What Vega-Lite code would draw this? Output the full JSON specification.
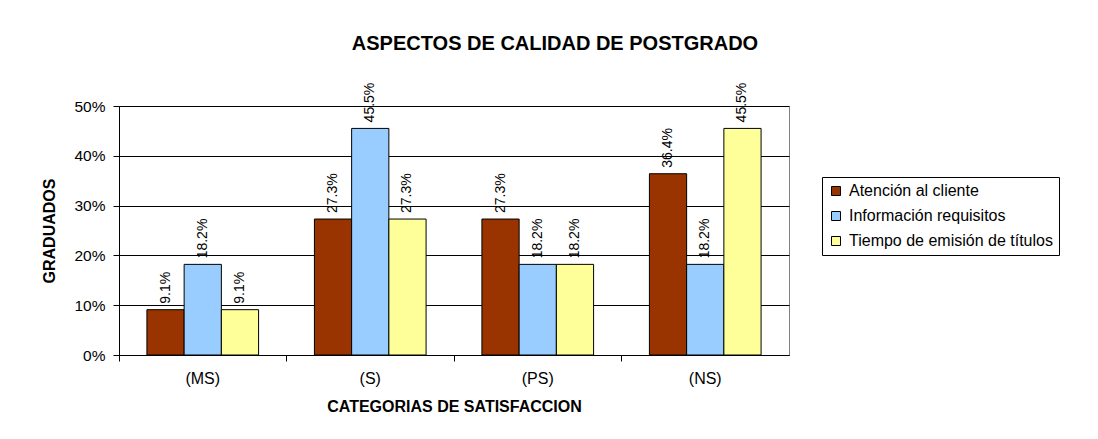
{
  "$schema": "https://vega.github.io/schema/vega-lite/v6.json",
  "width": 670,
  "height": 249,
  "autosize": {"type": "none"},
  "padding": {"left": 119, "top": 106, "right": 309, "bottom": 84},
  "background": "white",
  "title": {
    "text": "ASPECTOS DE CALIDAD DE POSTGRADO",
    "font": "Liberation Sans",
    "fontSize": 20,
    "fontWeight": "bold",
    "color": "black",
    "anchor": "middle",
    "frame": "group",
    "dx": 101,
    "offset": 29
  },
  "config": {
    "font": "Liberation Sans",
    "view": {"stroke": "#808080", "strokeWidth": 1}
  },
  "data": {
    "values": [
      {"cat": "(MS)", "serie": "Atención al cliente", "v": 0.091},
      {"cat": "(MS)", "serie": "Información requisitos", "v": 0.182},
      {"cat": "(MS)", "serie": "Tiempo de emisión de títulos", "v": 0.091},
      {"cat": "(S)", "serie": "Atención al cliente", "v": 0.273},
      {"cat": "(S)", "serie": "Información requisitos", "v": 0.455},
      {"cat": "(S)", "serie": "Tiempo de emisión de títulos", "v": 0.273},
      {"cat": "(PS)", "serie": "Atención al cliente", "v": 0.273},
      {"cat": "(PS)", "serie": "Información requisitos", "v": 0.182},
      {"cat": "(PS)", "serie": "Tiempo de emisión de títulos", "v": 0.182},
      {"cat": "(NS)", "serie": "Atención al cliente", "v": 0.364},
      {"cat": "(NS)", "serie": "Información requisitos", "v": 0.182},
      {"cat": "(NS)", "serie": "Tiempo de emisión de títulos", "v": 0.455}
    ]
  },
  "encoding": {
    "x": {
      "field": "cat",
      "type": "nominal",
      "sort": ["(MS)", "(S)", "(PS)", "(NS)"],
      "scale": {"paddingInner": 0, "paddingOuter": 0},
      "axis": {
        "title": "CATEGORIAS DE SATISFACCION",
        "titleFont": "Liberation Sans",
        "titleFontSize": 16,
        "titleFontWeight": "bold",
        "titleColor": "black",
        "titlePadding": 12,
        "labelAngle": 0,
        "labelFont": "Liberation Sans",
        "labelFontSize": 16,
        "labelColor": "black",
        "labelPadding": 9,
        "bandPosition": 0,
        "tickSize": 6,
        "tickColor": "black",
        "domainColor": "black",
        "grid": false
      }
    },
    "xOffset": {
      "field": "serie",
      "type": "nominal",
      "scale": {"paddingInner": 0, "paddingOuter": 0.75}
    },
    "y": {
      "field": "v",
      "type": "quantitative",
      "scale": {"domain": [0, 0.5], "nice": false},
      "axis": {
        "title": "GRADUADOS",
        "titleFont": "Liberation Sans",
        "titleFontSize": 16,
        "titleFontWeight": "bold",
        "titleColor": "black",
        "titlePadding": 16,
        "format": ".0%",
        "values": [0, 0.1, 0.2, 0.3, 0.4, 0.5],
        "labelFont": "Liberation Sans",
        "labelFontSize": 15.5,
        "labelColor": "black",
        "labelPadding": 8,
        "tickSize": 6,
        "tickColor": "black",
        "domainColor": "black",
        "grid": true,
        "gridColor": "black",
        "gridOpacity": 1,
        "gridWidth": 1
      }
    }
  },
  "layer": [
    {
      "mark": {"type": "bar", "stroke": "black", "strokeWidth": 1, "opacity": 1},
      "encoding": {
        "color": {
          "field": "serie",
          "type": "nominal",
          "scale": {
            "domain": ["Atención al cliente", "Información requisitos", "Tiempo de emisión de títulos"],
            "range": ["#993300", "#99CCFF", "#FFFF99"]
          },
          "legend": {
            "title": null,
            "orient": "none",
            "legendX": 703,
            "legendY": 71,
            "symbolType": "square",
            "symbolSize": 81,
            "symbolStrokeColor": "black",
            "symbolStrokeWidth": 1,
            "symbolOpacity": 1,
            "labelFont": "Liberation Sans",
            "labelFontSize": 16,
            "labelColor": "black",
            "labelLimit": 0,
            "labelOffset": 5,
            "rowPadding": 9,
            "padding": 6,
            "strokeColor": "black",
            "fillColor": "white"
          }
        }
      }
    },
    {
      "mark": {
        "type": "text",
        "angle": 270,
        "align": "left",
        "baseline": "middle",
        "dx": 6,
        "font": "Liberation Sans",
        "fontSize": 14,
        "color": "black"
      },
      "encoding": {
        "text": {"field": "v", "type": "quantitative", "format": ".1%"}
      }
    }
  ]
}
